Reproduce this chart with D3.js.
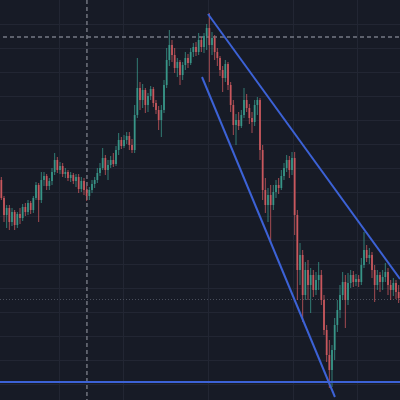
<!DOCTYPE html>
<html><head><meta charset="utf-8">
<script src="https://cdn.jsdelivr.net/npm/d3@7"></script>
<style>html,body{margin:0;padding:0;background:#171b26;}svg{display:block;}</style>
</head><body>
<svg id="chart" width="400" height="400"></svg>
<script>
// Candle data (price units), index = candle number
const opens = [220,202,185,192,178,188,175,186,182,193,188,197,190,202,215,200,220,224,214,219,228,240,230,234,226,228,222,225,219,223,211,219,210,204,210,216,220,227,232,242,230,235,240,236,250,260,254,260,264,255,250,285,312,300,310,295,304,311,297,290,280,290,315,340,355,345,332,338,325,335,342,337,348,353,348,360,353,364,372,355,362,348,342,330,322,336,315,295,275,280,274,285,300,292,282,278,295,300,250,210,195,205,195,208,215,212,224,232,240,230,242,185,130,145,105,130,115,125,110,120,125,100,70,45,30,50,75,90,105,118,100,117,125,118,121,118,135,150,142,145,130,115,125,118,123,128,115,110,117,108];
const highs = [223,204,195,195,192,190,188,192,196,197,200,199,204,218,217,228,228,226,222,232,247,243,238,237,232,230,228,227,226,226,223,222,214,213,220,223,232,237,252,245,240,244,247,254,267,263,265,268,268,261,295,342,318,316,312,307,314,313,300,294,295,320,352,370,360,352,342,340,338,348,346,352,357,358,367,363,367,376,387,368,365,352,344,334,340,338,318,300,286,288,290,312,306,296,288,300,303,302,255,222,212,215,215,220,222,230,237,245,244,248,248,190,157,150,138,140,132,130,128,138,130,105,75,60,55,82,100,115,128,125,127,130,129,126,125,142,168,155,152,148,135,130,128,130,137,132,120,122,120,115];
const lows  = [200,178,172,170,174,170,172,176,179,184,185,186,187,200,178,197,214,210,210,215,225,227,226,223,222,219,218,216,213,207,208,205,199,200,207,212,217,224,230,225,220,232,233,234,245,251,252,256,250,247,247,282,290,292,287,288,300,293,286,270,263,287,312,334,338,327,323,315,320,330,332,335,343,344,345,348,347,350,318,345,340,334,324,308,318,310,288,265,255,270,272,282,288,276,267,274,285,240,200,187,178,158,190,202,206,210,220,228,222,225,165,100,115,78,100,100,87,103,105,110,95,65,38,12,13,40,68,82,100,72,95,112,113,114,113,115,132,138,136,122,98,110,108,110,118,105,100,104,101,97];
const closes= [202,185,192,178,188,175,186,182,193,188,197,190,202,215,200,220,224,214,219,228,240,230,234,226,228,222,225,219,223,211,219,210,204,210,216,220,227,232,242,230,235,240,236,250,260,254,260,264,255,250,285,312,300,310,295,304,311,297,290,280,290,315,340,355,345,332,338,325,335,342,337,348,353,348,360,353,364,372,355,362,348,342,330,322,336,315,295,275,280,274,285,300,292,282,278,295,300,250,210,195,205,195,208,215,212,224,232,240,230,242,185,130,145,105,130,115,125,110,120,125,100,70,45,30,50,75,90,105,118,100,117,125,118,121,118,135,150,142,145,130,115,125,118,123,128,115,110,117,108,102];

// Price grid values and time grid positions (candle index)
const priceGrid = [16,40,64,88,112,136,160,184,208,232,256,280,304,328,352,376];
const timeGrid = [21.6,45.6,77.5,109.4,133.4];

// Drawings: trendlines [index, price]
const upperTrend = [[77.5,386],[149.5,121]];
const lowerTrend = [[75.25,323],[125.1,3]];
const supportLevel = 18;
const lastPriceLine = 100.5;
const crosshair = {index: 32.1, price: 363};

const W = 400, H = 400;
const n = closes.length;
const svg = d3.select("#chart");
const x = d3.scaleLinear().domain([-0.5, n - 0.5]).range([0, W]);
const y = d3.scaleLinear().domain([0, 400]).range([H, 0]);

svg.append("rect").attr("width", W).attr("height", H).attr("fill", "#171b26");

// grid
const g = svg.append("g");
g.selectAll(".hg").data(priceGrid).join("line")
  .attr("x1", 0).attr("x2", W).attr("y1", d => Math.round(y(d)) + 0.5).attr("y2", d => Math.round(y(d)) + 0.5)
  .attr("stroke", "#222633").attr("stroke-width", 1);
g.selectAll(".vg").data(timeGrid).join("line")
  .attr("y1", 0).attr("y2", H).attr("x1", d => Math.round(x(d)) + 0.5).attr("x2", d => Math.round(x(d)) + 0.5)
  .attr("stroke", "#222633").attr("stroke-width", 1);

// last price dotted line
svg.append("line").attr("x1", 0).attr("x2", W)
  .attr("y1", y(lastPriceLine)).attr("y2", y(lastPriceLine))
  .attr("stroke", "#4a4f5c").attr("stroke-width", 1).attr("stroke-dasharray", "1,2");

// crosshair
svg.append("line").attr("x1", x(crosshair.index)).attr("x2", x(crosshair.index)).attr("y1", 0).attr("y2", H)
  .attr("stroke", "#767a85").attr("stroke-width", 1.4).attr("stroke-dasharray", "4,3");
svg.append("line").attr("x1", 3).attr("x2", W).attr("y1", y(crosshair.price)).attr("y2", y(crosshair.price))
  .attr("stroke", "#767a85").attr("stroke-width", 1.4).attr("stroke-dasharray", "4,3");

// candles
const data = d3.range(n).map(i => ({i, o: opens[i], h: highs[i], l: lows[i], c: closes[i]}));
const up = "#3a9a8c", down = "#cf5a5f";
const bw = 1.8;
const cg = svg.append("g");
cg.selectAll(".wick").data(data).join("line")
  .attr("x1", d => x(d.i)).attr("x2", d => x(d.i))
  .attr("y1", d => y(d.h)).attr("y2", d => y(d.l))
  .attr("stroke", d => d.c >= d.o ? up : down).attr("stroke-width", 0.9).attr("opacity", 0.85);
cg.selectAll(".body").data(data).join("rect")
  .attr("x", d => x(d.i) - bw / 2).attr("width", bw)
  .attr("y", d => y(Math.max(d.o, d.c)))
  .attr("height", d => Math.max(1, Math.abs(y(d.o) - y(d.c))))
  .attr("fill", d => d.c >= d.o ? up : down).attr("opacity", 0.9);

// drawings
const blue = "#3c62d6";
const line = d3.line().x(d => x(d[0])).y(d => y(d[1]));
svg.append("path").attr("d", line(upperTrend)).attr("fill", "none").attr("stroke", blue).attr("stroke-width", 2);
svg.append("path").attr("d", line(lowerTrend)).attr("fill", "none").attr("stroke", blue).attr("stroke-width", 2);
svg.append("line").attr("x1", 0).attr("x2", W).attr("y1", y(supportLevel)).attr("y2", y(supportLevel))
  .attr("stroke", blue).attr("stroke-width", 2);
</script>
</body></html>
